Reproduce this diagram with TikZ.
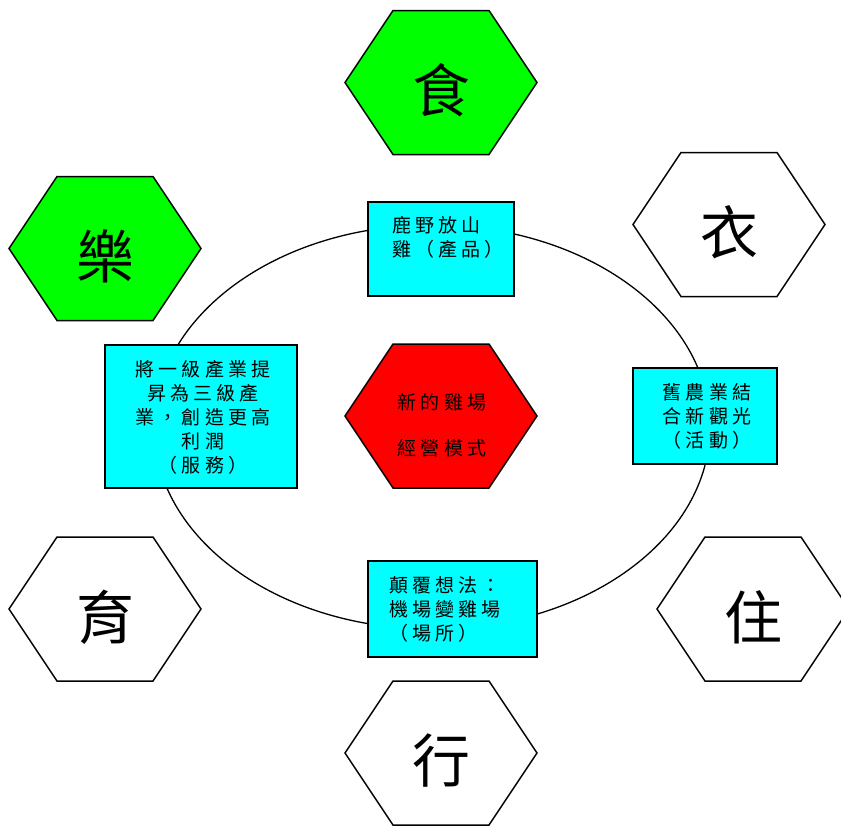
\documentclass[tikz,border=0pt]{standalone}
\usepackage{fontspec}
\setmainfont{Noto Sans CJK TC}
\newfontfamily\cjkbox[LetterSpace=22]{Noto Sans CJK TC}
\newfontfamily\cjkbig{Noto Sans CJK TC}
\usetikzlibrary{shapes.geometric}
\definecolor{boxcyan}{RGB}{0,255,255}
\definecolor{hexgreen}{RGB}{0,255,0}
\definecolor{hexred}{RGB}{255,0,0}
\tikzset{
  hexline/.style={draw=black, line width=1.5pt, line join=miter},
  pics/hexa/.style={code={\path[hexline, fill=#1] (-96,0)--(-48,-72)--(48,-72)--(96,0)--(48,72)--(-48,72)--cycle;}},
  bigchar/.style={font=\cjkbig\fontsize{58}{60}\selectfont, inner sep=0pt},
  infobox/.style={draw=black, line width=2pt, fill=boxcyan, inner sep=0pt},
  boxtext/.style={font=\cjkbox\fontsize{19}{24}\selectfont, inner sep=0pt},
  ring/.style={draw=black, line width=1.3pt, ellipse, inner sep=0pt},
}
\begin{document}
\begin{tikzpicture}[x=1pt, y=-1pt]
\useasboundingbox (0,0) rectangle (841,825);
% ellipse
\node[ring, minimum width=556pt, minimum height=404pt] (cycle) at (432,427) {};
% hexagons
\pic at (441,82.5) {hexa=hexgreen};
\pic at (729,224.5) {hexa=white};
\pic at (105,248.5) {hexa=hexgreen};
\pic at (441,416) {hexa=hexred};
\pic at (105,609) {hexa=white};
\pic at (753,609) {hexa=white};
\pic at (441,753) {hexa=white};
\node[bigchar] (shi) at (441,90) {食};
\node[bigchar] (yi) at (729,232) {衣};
\node[bigchar] (le) at (105,256) {樂};
\node[bigchar] (yu) at (105,617) {育};
\node[bigchar] (zhu) at (753,617) {住};
\node[bigchar] (xing) at (441,761) {行};
\node[font=\cjkbox\fontsize{19}{46}\selectfont, inner sep=0pt, align=center] (core) at (442,425) {新的雞場\\經營模式};
% boxes
\node[infobox, minimum width=146pt, minimum height=94pt] (b1) at (441,249) {};
\node[infobox, minimum width=192pt, minimum height=143pt] (b2) at (201,416.5) {};
\node[infobox, minimum width=144pt, minimum height=96pt] (b3) at (705,416) {};
\node[infobox, minimum width=169pt, minimum height=96pt] (b4) at (452.5,609) {};
\node[boxtext, align=left, anchor=west] (t1) at (392,237.5) {鹿野放山\\雞（產品）};
\node[boxtext, align=center] (t2) at (203,417) {將一級產業提\\昇為三級產\\業，創造更高\\利潤\\（服務）};
\node[boxtext, align=center] (t3) at (707,416) {舊農業結\\合新觀光\\（活動）};
\node[boxtext, align=left, anchor=west] (t4) at (389,609) {顛覆想法：\\機場變雞場\\（場所）};
\end{tikzpicture}
\end{document}
